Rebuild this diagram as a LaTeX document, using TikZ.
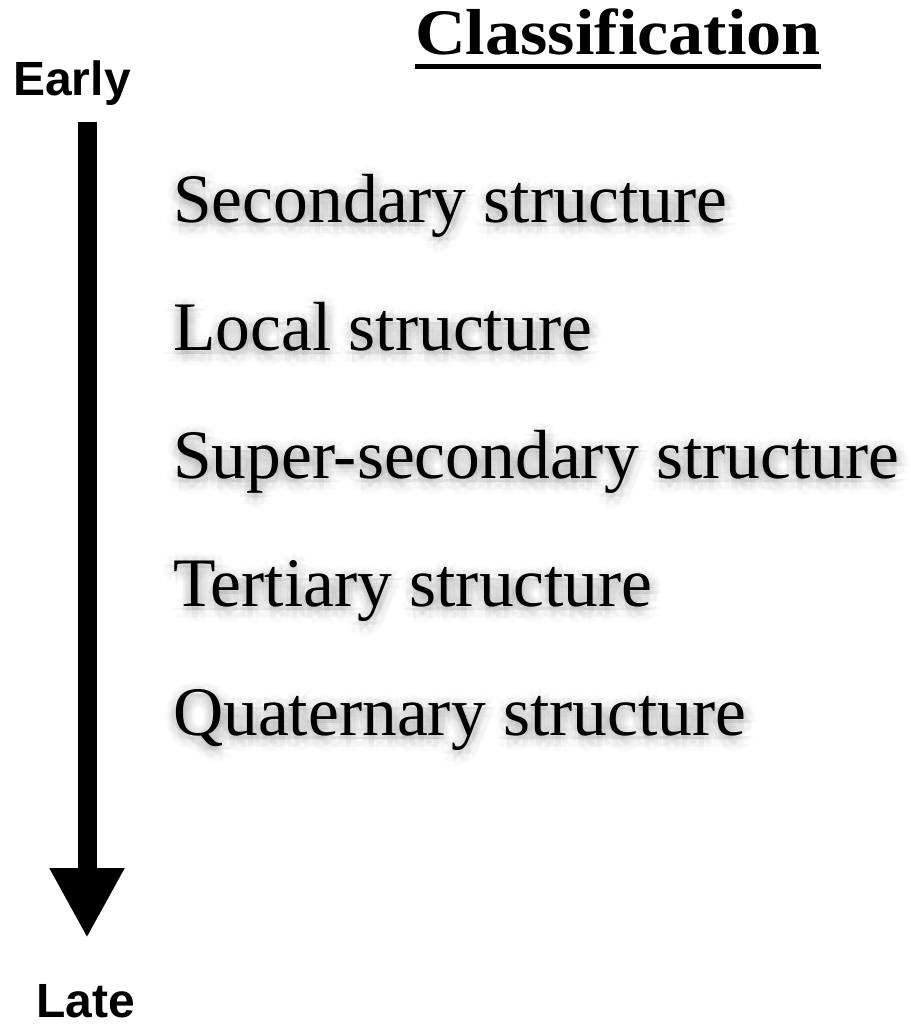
\documentclass[tikz,border=0pt]{standalone}
\usepackage{fontspec}
\setmainfont{Liberation Serif}
\newfontfamily\labsans{Liberation Sans}
\usetikzlibrary{arrows.meta,calc}
\tikzset{
  item/.style={anchor=base west, inner sep=0pt, font=\fontsize{69.5}{72}\selectfont},
  sidelab/.style={anchor=base, inner sep=0pt, font=\labsans\bfseries\fontsize{48}{50}\selectfont},
  shadowtxt/.style={item, text=black!80, opacity=0.014},
}
\newcommand{\shadowitem}[3]{%
  \node[shadowtxt] at ($(#1,#2)+(1,4)$) {#3};
  \foreach \r in {2,4,6,8,10,12}{
    \foreach \a in {0,45,...,315}{
      \node[shadowtxt] at ($(#1,#2)+(1,4)+(\a:\r)$) {#3};
    }
  }%
}
\begin{document}
\begin{tikzpicture}[x=1pt,y=-1pt]
\useasboundingbox (0,0) rectangle (911,1029);
% title
\node[anchor=base, inner sep=0pt, font=\bfseries\fontsize{65}{67}\selectfont] (title) at (618,54) {\scalebox{1.08}[1]{Classification}};
\draw[line width=5pt] (title.base west |- 0,66) -- (title.base east |- 0,66);
% side labels
\node[sidelab] (early) at (72,95) {Early};
\node[sidelab] (late) at (86,1017) {Late};
% arrow
\coordinate (astart) at (87,122);
\coordinate (aend) at (87,938);
\draw[line width=19pt, -{Triangle[length=70pt,width=70pt]}] (astart) -- (aend);
% items
\shadowitem{173}{222}{Secondary structure}
\node[item] (s1) at (173,222) {Secondary structure};
\shadowitem{173}{350}{Local structure}
\node[item] (s2) at (173,350) {Local structure};
\shadowitem{173}{478}{Super-secondary structure}
\node[item] (s3) at (173,478) {Super-secondary structure};
\shadowitem{173}{606}{Tertiary structure}
\node[item] (s4) at (173,606) {Tertiary structure};
\shadowitem{173}{735}{Quaternary structure}
\node[item] (s5) at (173,735) {Quaternary structure};
\end{tikzpicture}
\end{document}
